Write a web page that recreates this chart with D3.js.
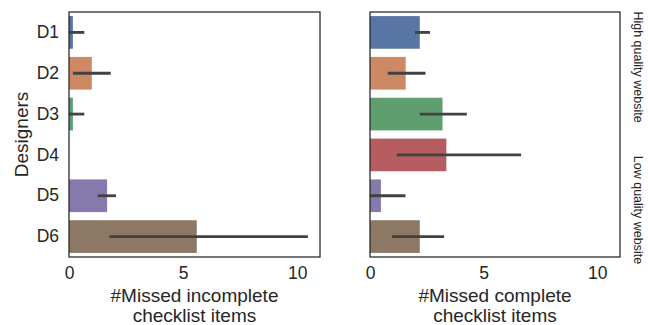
<!DOCTYPE html>
<html><head><meta charset="utf-8">
<script src="https://cdn.jsdelivr.net/npm/d3@7"></script>
<style>body{margin:0;background:#fff;} text{font-family:"Liberation Sans",Arial,sans-serif;}</style>
</head><body>
<svg id="c" width="648" height="325"></svg>
<script>
const designers = ["D1","D2","D3","D4","D5","D6"];
const colors = ["#5975a4","#cc8963","#5f9e6e","#b55d60","#857aab","#8d7866"];
const incompleteMean = [0.17, 1.0, 0.17, 0, 1.67, 5.6];
const incompleteLo   = [0, 0.17, 0, 0, 1.26, 1.77];
const incompleteHi   = [0.67, 1.83, 0.67, 0, 2.06, 10.47];
const completeMean = [2.19, 1.57, 3.19, 3.36, 0.48, 2.19];
const completeLo   = [1.98, 0.78, 2.19, 1.17, 0, 0.97];
const completeHi   = [2.64, 2.44, 4.26, 6.65, 1.56, 3.26];
const xTicks = [0, 5, 10];
const xLabels = [["#Missed incomplete","checklist items"],["#Missed complete","checklist items"]];
const rowLabels = ["High quality website","Low quality website"];

const svg = d3.select("#c");
const plotTop = 12, plotBottom = 257;
const y = d3.scaleBand().domain(designers).range([plotTop, plotBottom]).paddingInner(0.2).paddingOuter(0.1);
const txt = "#262626";

function panel(x0, x1, mean, lo, hi, label, showY) {
  const x = d3.scaleLinear().domain([0, 11]).range([x0, x1]);
  const g = svg.append("g");
  const rows = designers.map((d,i)=>({d, m:mean[i], lo:lo[i], hi:hi[i], c:colors[i]}));
  g.selectAll("rect.bar").data(rows).join("rect")
    .attr("x", x(0)).attr("y", r=>y(r.d))
    .attr("width", r=>x(r.m)-x(0)).attr("height", y.bandwidth())
    .attr("fill", r=>r.c);
  g.selectAll("line.err").data(rows.filter(r=>r.hi>r.lo)).join("line")
    .attr("x1", r=>x(r.lo)).attr("x2", r=>x(r.hi))
    .attr("y1", r=>y(r.d)+y.bandwidth()/2).attr("y2", r=>y(r.d)+y.bandwidth()/2)
    .attr("stroke", "#424242").attr("stroke-width", 2.8);
  g.append("rect").attr("x", x0).attr("y", plotTop).attr("width", x1-x0).attr("height", plotBottom-plotTop)
    .attr("fill","none").attr("stroke", txt).attr("stroke-width", 1.25);
  const ax = d3.axisBottom(x).tickValues(xTicks).tickSize(0).tickPadding(0).tickFormat(d3.format("d"));
  const axg = g.append("g").attr("transform", `translate(0,${plotBottom})`).call(ax);
  axg.select(".domain").remove();
  axg.selectAll("text").attr("y", 0).attr("dy", "1.25em").attr("font-size", 17.5).attr("fill", txt)
    .style("font-family", '"Liberation Sans",Arial,sans-serif');
  const cx = (x0+x1)/2;
  g.append("text").attr("x", cx).attr("y", 302).attr("text-anchor","middle").attr("font-size",19).attr("fill",txt).text(label[0]);
  g.append("text").attr("x", cx).attr("y", 322).attr("text-anchor","middle").attr("font-size",19).attr("fill",txt).text(label[1]);
  if (showY) {
    const ay = d3.axisLeft(y).tickSize(0).tickPadding(10);
    const ayg = g.append("g").attr("transform", `translate(${x0},0)`).call(ay);
    ayg.select(".domain").remove();
    ayg.selectAll("text").attr("font-size", 17.5).attr("fill", txt)
      .style("font-family", '"Liberation Sans",Arial,sans-serif');
    g.append("text").attr("transform", `translate(28,${(plotTop+plotBottom)/2}) rotate(-90)`)
      .attr("text-anchor","middle").attr("font-size",19).attr("fill",txt).text("Designers");
  }
}
panel(69, 320, incompleteMean, incompleteLo, incompleteHi, xLabels[0], true);
panel(370, 620, completeMean, completeLo, completeHi, xLabels[1], false);

[67, 210].forEach((cy,i)=>{
  svg.append("text").attr("transform", `translate(634,${cy}) rotate(90)`)
    .attr("text-anchor","middle").attr("font-size",12.5).attr("fill",txt).text(rowLabels[i]);
});
</script>
</body></html>
